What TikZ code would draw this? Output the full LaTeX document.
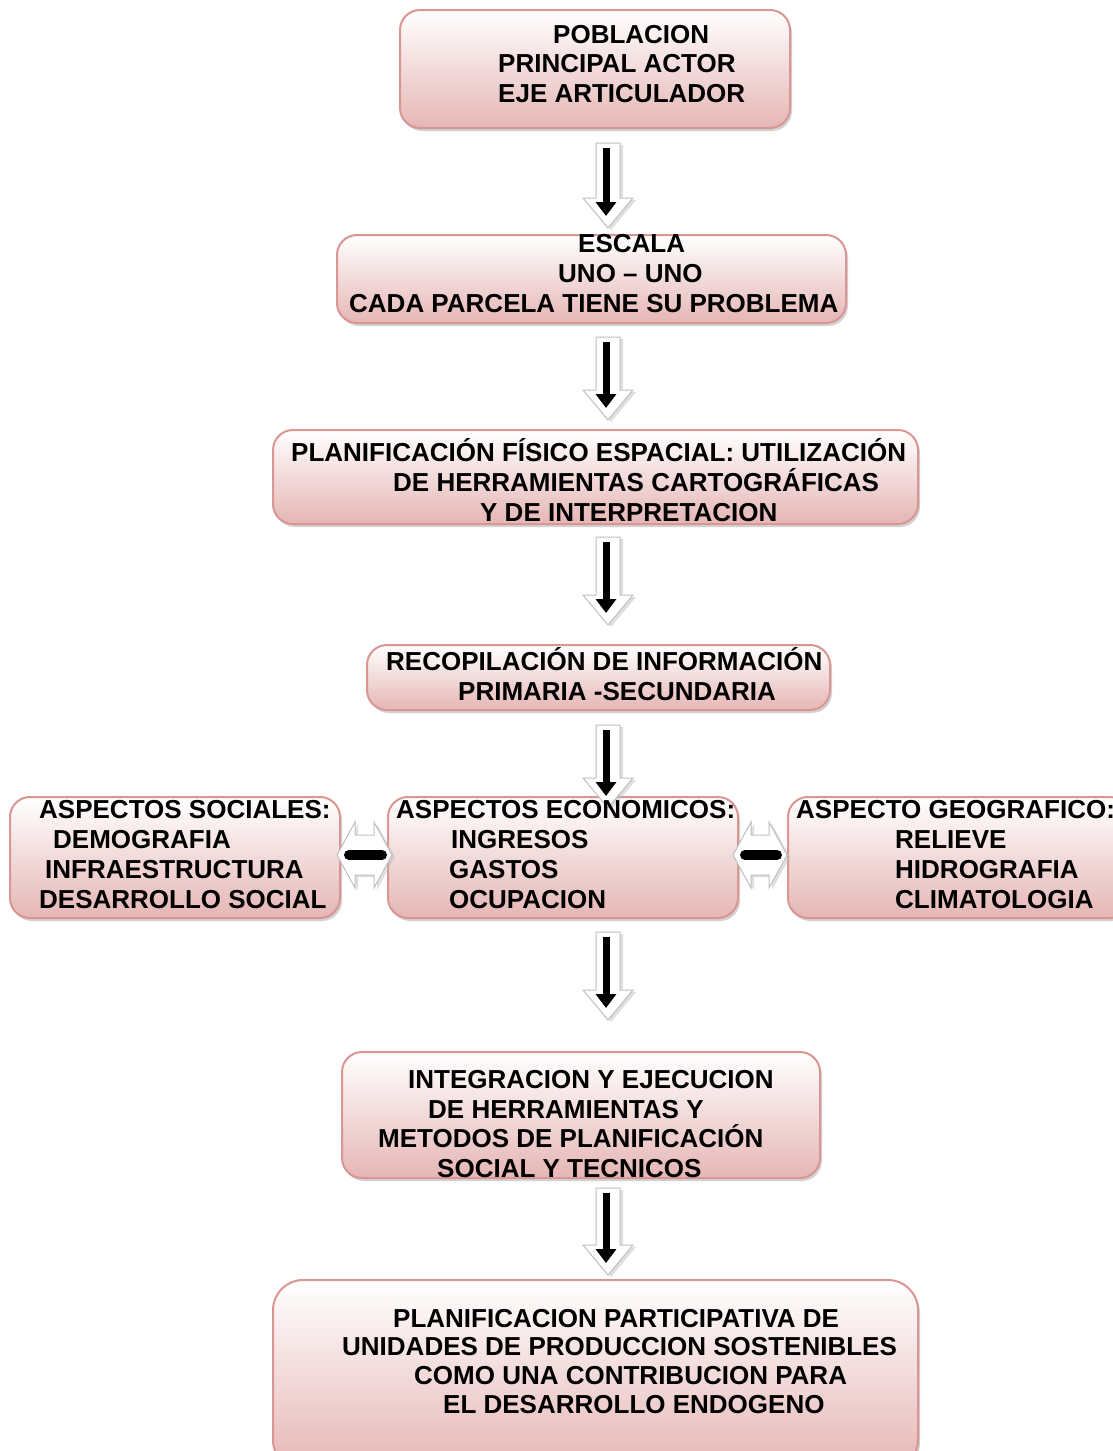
\documentclass[tikz,border=0pt]{standalone}
\usepackage{fontspec}
\setmainfont{Liberation Sans}
\usetikzlibrary{shadows,arrows.meta}
\definecolor{bd}{RGB}{217,150,148}
\definecolor{pk}{RGB}{229,182,181}
\tikzset{
 box/.style={draw=bd, line width=2pt, rounded corners=20pt, top color=white, bottom color=pk,
   drop shadow={shadow xshift=2pt, shadow yshift=-3pt, fill=black!35}},
 txt/.style={font=\fontsize{26}{30}\selectfont\bfseries, inner sep=0pt, anchor=base west},
 blk/.style={fill=white, draw=black!25, line width=1pt,
   drop shadow={shadow xshift=3pt, shadow yshift=-2pt, fill=black!25}},
 blackarrow/.style={line width=7pt, -{Triangle[width=20pt,length=14pt]}},
 bar/.style={line width=10pt, line cap=round}
}
\newcommand\dnarrow[3]{%
 \draw[blk] (596,#2) -- (620,#2) -- (620,#3-30) -- (633,#3-30) -- (608,#3) -- (583,#3-30) -- (596,#3-30) -- cycle;
 \coordinate (#1s) at (606,#2+5);
 \coordinate (#1e) at (606,#3-12);
 \draw[blackarrow] (#1s) -- (#1e);
}
\newcommand\lrarrow[4]{% name, left x, right x, y
 \draw[blk] (#2,#4) -- (#2+18,#4-33) -- (#2+18,#4-20) -- (#3-18,#4-20) -- (#3-18,#4-33) -- (#3,#4)
   -- (#3-18,#4+33) -- (#3-18,#4+20) -- (#2+18,#4+20) -- (#2+18,#4+33) -- cycle;
 \coordinate (#1a) at (#2+12,#4);
 \coordinate (#1b) at (#3-10,#4);
 \draw[bar] (#1a) -- (#1b);
}
\begin{document}
\begin{tikzpicture}[x=1pt,y=-1pt]
\useasboundingbox (0,0) rectangle (1112,1451);
% boxes
\node[box, minimum width=390pt, minimum height=118pt] (b1) at (595,69) {};
\node[box, minimum width=509pt, minimum height=88pt] (b2) at (591.5,279) {};
\node[box, minimum width=645pt, minimum height=94pt] (b3) at (595.5,477) {};
\node[box, minimum width=463pt, minimum height=65pt] (b4) at (598.5,677.5) {};
\node[box, minimum width=330pt, minimum height=121pt] (b5) at (175,857.5) {};
\node[box, minimum width=350pt, minimum height=121pt] (b6) at (563,857.5) {};
\node[box, minimum width=342pt, minimum height=121pt] (b7) at (959,857.5) {};
\node[box, minimum width=478pt, minimum height=126pt] (b8) at (581,1115) {};
\node[box, minimum width=645pt, minimum height=190pt, rounded corners=30pt] (b9) at (595.5,1375) {};
% arrows
\dnarrow{a1}{143}{228}
\dnarrow{a2}{337}{420}
\dnarrow{a3}{537}{625}
\dnarrow{a4}{725}{808}
\dnarrow{a5}{932}{1020}
\dnarrow{a6}{1188}{1275}
\lrarrow{h1}{337}{392}{855}
\lrarrow{h2}{733}{787}{855}
% texts
\node[txt] (t1a) at (553,43) {POBLACION};
\node[txt] (t1b) at (498,72) {PRINCIPAL ACTOR};
\node[txt] (t1c) at (498,102) {EJE ARTICULADOR};
\node[txt] (t2a) at (578,252) {ESCALA};
\node[txt] (t2b) at (558,282) {UNO – UNO};
\node[txt] (t2c) at (349,312) {CADA PARCELA TIENE SU PROBLEMA};
\node[txt] (t3a) at (291,461) {PLANIFICACIÓN FÍSICO ESPACIAL: UTILIZACIÓN};
\node[txt] (t3b) at (393,491) {DE HERRAMIENTAS CARTOGRÁFICAS};
\node[txt] (t3c) at (480,521) {Y DE INTERPRETACION};
\node[txt] (t4a) at (386,670) {RECOPILACIÓN DE INFORMACIÓN};
\node[txt] (t4b) at (458,700) {PRIMARIA -SECUNDARIA};
\node[txt] (t5a) at (39,818) {ASPECTOS SOCIALES:};
\node[txt] (t5b) at (53,848) {DEMOGRAFIA};
\node[txt] (t5c) at (45,878) {INFRAESTRUCTURA};
\node[txt] (t5d) at (39,908) {DESARROLLO SOCIAL};
\node[txt] (t6a) at (396,818) {ASPECTOS ECONOMICOS:};
\node[txt] (t6b) at (451,848) {INGRESOS};
\node[txt] (t6c) at (449,878) {GASTOS};
\node[txt] (t6d) at (449,908) {OCUPACION};
\node[txt] (t7a) at (796,818) {ASPECTO GEOGRAFICO:};
\node[txt] (t7b) at (895,848) {RELIEVE};
\node[txt] (t7c) at (895,878) {HIDROGRAFIA};
\node[txt] (t7d) at (895,908) {CLIMATOLOGIA};
\node[txt] (t8a) at (408,1088) {INTEGRACION Y EJECUCION};
\node[txt] (t8b) at (428,1118) {DE HERRAMIENTAS Y};
\node[txt] (t8c) at (378,1147) {METODOS DE PLANIFICACIÓN};
\node[txt] (t8d) at (437,1177) {SOCIAL Y TECNICOS};
\node[txt] (t9a) at (393,1327) {PLANIFICACION PARTICIPATIVA DE};
\node[txt] (t9b) at (342,1355) {UNIDADES DE PRODUCCION SOSTENIBLES};
\node[txt] (t9c) at (414,1384) {COMO UNA CONTRIBUCION PARA};
\node[txt] (t9d) at (443,1413) {EL DESARROLLO ENDOGENO};
\end{tikzpicture}
\end{document}
